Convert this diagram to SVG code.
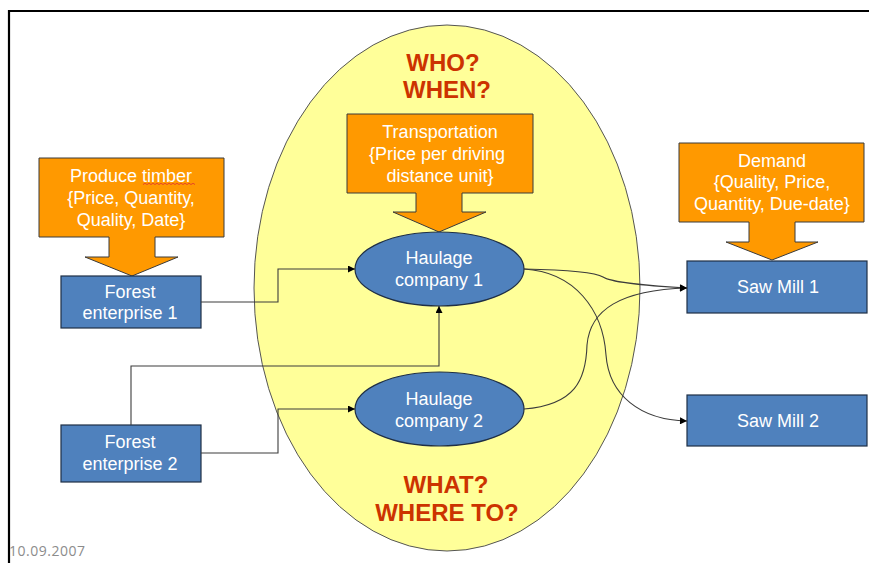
<svg xmlns="http://www.w3.org/2000/svg" width="869" height="563" viewBox="0 0 869 563">
<defs>
<style>
.lbl{font-family:"Liberation Sans",Arial,sans-serif;font-size:18px;fill:#ffffff;text-anchor:middle}
.q{font-family:"Liberation Sans",Arial,sans-serif;font-size:24px;font-weight:bold;fill:#CC3300;text-anchor:middle}
.box{fill:#4F81BD;stroke:#1F2F45;stroke-width:1.2}
.call{fill:#FF9900;stroke:#3a3a3a;stroke-width:1}
.con{fill:none;stroke:#3c3c3c;stroke-width:1.1}
</style>
<marker id="arr" viewBox="0 0 10 10" refX="10" refY="5" markerWidth="8" markerHeight="7" markerUnits="userSpaceOnUse" orient="auto">
<path d="M0,0 L10,5 L0,10 Z" fill="#000"/>
</marker>
</defs>
<rect width="869" height="563" fill="#ffffff"/>
<path d="M9,563 V11 H869" fill="none" stroke="#000" stroke-width="2.2"/>
<text x="9" y="556" font-family="'Open Sans','Liberation Sans',sans-serif" font-size="14" fill="#8c8c8c" textLength="76">10.09.2007</text>

<g id="scope">
<ellipse cx="447" cy="288" rx="193" ry="263" fill="#FFFF99" stroke="#555" stroke-width="1"/>
<text class="q" x="443" y="71">WHO?</text>
<text class="q" x="447" y="98">WHEN?</text>
<text class="q" x="446" y="493">WHAT?</text>
<text class="q" x="447" y="521">WHERE TO?</text>
</g>

<g id="produce-timber">
<path class="call" d="M39,158 H224 V237 H155 V257 H178 L132,276 L85,257 H109 V237 H39 Z"/>
<text class="lbl" x="131" y="182">Produce timber</text>
<text class="lbl" x="131" y="204">{Price, Quantity,</text>
<text class="lbl" x="131" y="226">Quality, Date}</text>
<path d="M143,184.5 l2,-1.2 l2,1.2 l2,-1.2 l2,1.2 l2,-1.2 l2,1.2 l2,-1.2 l2,1.2 l2,-1.2 l2,1.2 l2,-1.2 l2,1.2 l2,-1.2 l2,1.2 l2,-1.2 l2,1.2 l2,-1.2 l2,1.2 l2,-1.2 l2,1.2 l2,-1.2 l2,1.2 l2,-1.2 l2,1.2 l2,-1.2 l2,1.2" fill="none" stroke="#e03030" stroke-width="0.8"/>
</g>

<g id="transportation">
<path class="call" d="M347,114 H533 V193 H462 V212 H486 L439,232 L393,212 H416 V193 H347 Z"/>
<text class="lbl" x="440" y="138">Transportation</text>
<text class="lbl" x="437" y="160">{Price per driving</text>
<text class="lbl" x="440" y="182">distance unit}</text>
</g>

<g id="demand">
<path class="call" d="M679,143 H864 V222 H795 V242 H818 L772,260 L726,242 H749 V222 H679 Z"/>
<text class="lbl" x="772" y="167">Demand</text>
<text class="lbl" x="772" y="188">{Quality, Price,</text>
<text class="lbl" x="772" y="210">Quantity, Due-date}</text>
</g>

<g id="forest-enterprise-1">
<rect class="box" x="61" y="276" width="140" height="52"/>
<text class="lbl" x="130" y="298">Forest</text>
<text class="lbl" x="130" y="319">enterprise 1</text>
</g>

<g id="forest-enterprise-2">
<rect class="box" x="61" y="425" width="140" height="57"/>
<text class="lbl" x="130" y="448">Forest</text>
<text class="lbl" x="130" y="470">enterprise 2</text>
</g>

<g id="haulage-company-1">
<ellipse class="box" cx="439.5" cy="269" rx="84.5" ry="37"/>
<text class="lbl" x="439" y="264">Haulage</text>
<text class="lbl" x="439" y="286">company 1</text>
</g>

<g id="haulage-company-2">
<ellipse class="box" cx="439.5" cy="409" rx="84.5" ry="37"/>
<text class="lbl" x="439" y="405">Haulage</text>
<text class="lbl" x="439" y="427">company 2</text>
</g>

<g id="saw-mill-1">
<rect class="box" x="687" y="261" width="180" height="52"/>
<text class="lbl" x="778" y="293">Saw Mill  1</text>
</g>

<g id="saw-mill-2">
<rect class="box" x="687" y="395" width="180" height="51"/>
<text class="lbl" x="778" y="427">Saw Mill  2</text>
</g>

<g id="connectors">
<path class="con" d="M201,302 H278 V269 H355" marker-end="url(#arr)"/>
<path class="con" d="M131,425 V366 H439 V306" marker-end="url(#arr)"/>
<path class="con" d="M201,453 H278 V409 H355" marker-end="url(#arr)"/>
<path class="con" d="M524,269 C570,270 595,272 603,277 C610,282 650,286 687,288" marker-end="url(#arr)"/>
<path class="con" d="M524,269 C575,272 603,310 606,355 C609,395 640,420 687,421" marker-end="url(#arr)"/>
<path class="con" d="M524,409 C575,405 586,380 587,345 C590,310 620,290 687,288" marker-end="url(#arr)"/>
</g>
</svg>
